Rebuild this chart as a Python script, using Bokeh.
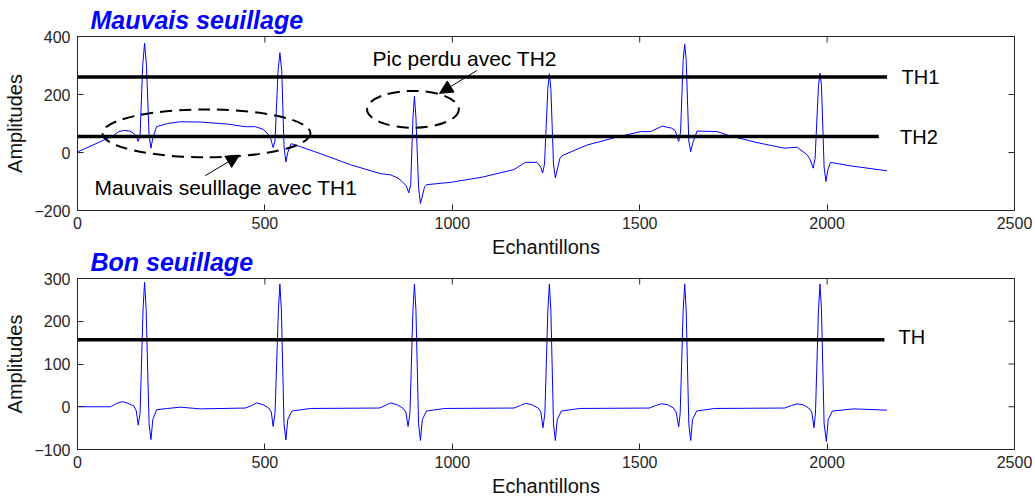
import math
from bokeh.plotting import figure
from bokeh.layouts import column
from bokeh.models import Range1d, FixedTicker, Arrow, NormalHead
from bokeh.embed import file_html
from bokeh.resources import INLINE

# ---------------- data ----------------
# Signal with bad thresholding (baseline wander)
top_x = [0, 40, 96, 110, 123, 140, 150, 157, 162, 167, 174, 179, 184, 191, 196, 201,
         211, 240, 275, 330, 400, 448, 475, 495, 506, 515, 522, 527, 535, 540, 545,
         551, 556, 561, 570, 578, 595, 650, 728, 808, 835, 855, 866, 877, 884, 889,
         895, 899, 903, 910, 915, 920, 926, 931, 995, 1080, 1164, 1195, 1226, 1236,
         1241, 1246, 1255, 1259, 1263, 1270, 1275, 1280, 1287, 1293, 1360, 1430, 1502,
         1529, 1560, 1585, 1595, 1604, 1609, 1616, 1620, 1624, 1631, 1636, 1641, 1653,
         1707, 1742, 1810, 1885, 1920, 1947, 1955, 1963, 1968, 1977, 1981, 1985, 1992,
         1997, 2002, 2009, 2062, 2125, 2160]
top_y = [2, 25, 58, 72, 76, 74, 66, 55, 38, 60, 300, 377, 300, 60, 15, 50,
         89, 100, 106, 105, 98, 89, 89, 80, 67, 50, 17, 40, 280, 344, 280,
         20, -33, 0, 30, 28, 20, -5, -42, -73, -77, -88, -100, -115, -139, -110,
         120, 194, 120, -120, -176, -150, -118, -111, -103, -85, -59, -34, -34, -50,
         -71, -40, 220, 272, 220, -40, -88, -60, -20, -11, 26, 50, 72,
         72, 91, 84, 75, 38, 70, 320, 373, 320, 40, 3, 30, 74,
         72, 57, 35, 15, 18, -8, -25, -54, -20, 230, 274, 230, -50,
         -100, -60, -34, -46, -57, -63]

# Signal with good thresholding
bot_x = [0, 88, 105, 119, 135, 150, 157, 162, 167, 175, 179, 183, 191, 196, 201, 211,
         240, 275, 328, 448, 465, 478, 495, 510, 517, 522, 527, 536, 540, 544, 551, 556,
         561, 572, 622, 805, 822, 835, 852, 868, 876, 882, 887, 895, 899, 903, 910, 915,
         920, 931, 980, 1165, 1182, 1195, 1212, 1229, 1236, 1242, 1247, 1255, 1259, 1263,
         1270, 1275, 1280, 1291, 1340, 1526, 1543, 1558, 1574, 1590, 1597, 1604, 1608,
         1616, 1620, 1624, 1631, 1636, 1641, 1652, 1700, 1887, 1905, 1920, 1935, 1951,
         1959, 1965, 1969, 1977, 1981, 1985, 1992, 1998, 2003, 2014, 2071, 2160]
bot_y = [0, 0, 8, 12, 8, 2, -10, -43, -15, 230, 291, 230, -40, -77, -30, -7,
         -4, -1, -5, -3, 3, 9, 5, -3, -12, -46, -15, 226, 287, 226, -40, -78,
         -30, -10, -4, -3, 3, 9, 5, -3, -12, -46, -15, 226, 287, 226, -40, -79,
         -30, -10, -4, -3, 3, 8, 5, -3, -12, -49, -15, 226, 287, 226,
         -40, -79, -30, -10, -4, -3, 3, 7, 5, -3, -12, -47, -15,
         226, 287, 226, -40, -79, -30, -10, -4, -3, 3, 6.5, 5, -3,
         -12, -49, -15, 226, 287, 226, -40, -81, -30, -10, -5, -8]

th1_value, th2_value, th_value = 260, 55, 157
th1_span = [0, 2160]
th2_span = [0, 2138]
th_span = [0, 2153]

x_ticks = [0, 500, 1000, 1500, 2000, 2500]
top_y_ticks = [-200, 0, 200, 400]
bot_y_ticks = [-100, 0, 100, 200, 300]

titles = ["Mauvais seuillage", "Bon seuillage"]
x_label = "Echantillons"
y_label = "Amplitudes"

FONT = "Liberation Sans"
AX = "#262626"
BLUE = "#0000FF"
X0, X1 = 0, 2500


def make_fig(height, border_top, border_bottom, y_start, y_end, y_ticks, title, **kw):
    p = figure(width=1035, height=height, output_backend="svg", toolbar_location=None,
               x_range=Range1d(X0, X1), y_range=Range1d(y_start, y_end),
               min_border_left=77, min_border_right=21,
               min_border_top=border_top, min_border_bottom=border_bottom, **kw)
    p.grid.visible = False
    p.outline_line_color = AX
    p.outline_line_width = 1
    p.outline_line_alpha = 1
    p.background_fill_color = "white"

    p.title.text = title
    p.title.text_font = FONT
    p.title.text_font_size = "25px"
    p.title.text_font_style = "bold italic"
    p.title.text_color = BLUE
    p.title.align = "left"
    p.title.offset = 13
    p.title.standoff = 5

    for ax, ticks in ((p.xaxis[0], x_ticks), (p.yaxis[0], y_ticks)):
        ax.ticker = FixedTicker(ticks=ticks)
        ax.major_tick_in = 6
        ax.major_tick_out = 0
        ax.minor_tick_line_color = None
        ax.major_tick_line_color = AX
        ax.axis_line_color = AX
        ax.major_label_text_font = FONT
        ax.major_label_text_font_size = "16px"
        ax.major_label_text_color = AX
        ax.axis_label_text_font = FONT
        ax.axis_label_text_font_size = "20px"
        ax.axis_label_text_font_style = "normal"
        ax.axis_label_text_color = "#111111"
    p.xaxis[0].axis_label = x_label
    p.xaxis[0].major_label_standoff = 6
    p.xaxis[0].axis_label_standoff = 4
    p.yaxis[0].axis_label = y_label
    p.yaxis[0].major_label_standoff = 7
    p.yaxis[0].axis_label_standoff = 5

    # mirrored inward ticks on the top and right edges of the box
    p.scatter(x=x_ticks, y=[y_end] * len(x_ticks), marker="dash", size=12,
              angle=math.pi / 2, line_color=AX, line_width=1)
    p.scatter(x=[X1] * len(y_ticks), y=y_ticks, marker="dash", size=12,
              line_color=AX, line_width=1)
    return p


# ---------------- top figure ----------------
p1 = make_fig(262, 36, 52, -200, 400, top_y_ticks, titles[0])
p1.border_fill_color = "white"

p1.line(top_x, top_y, line_color=BLUE, line_width=1)
p1.line(th1_span, [th1_value, th1_value], line_color="black", line_width=3.5)
p1.line(th2_span, [th2_value, th2_value], line_color="black", line_width=3.5)
p1.text(x=[2249, 2245], y=[th1_value, th2_value], text=["TH1", "TH2"],
        text_font={"value": FONT}, text_font_size="20px", text_color="black",
        text_align="center", text_baseline="middle")

p1.ellipse(x=[344, 895], y=[66, 149], width=[555, 245], height=[165, 127],
           fill_color=None, line_color="black", line_width=2, line_dash="12 7")
p1.text(x=[396, 1033], y=[-122, 323],
        text=["Mauvais seulllage avec TH1", "Pic perdu avec TH2"],
        text_font={"value": FONT}, text_font_size="21px", text_color="black",
        text_align="center", text_baseline="middle")
p1.add_layout(Arrow(end=NormalHead(size=13, fill_color="black", line_color="black"),
                    x_start=341, y_start=-80, x_end=432, y_end=-9,
                    line_color="black", line_width=1))
p1.add_layout(Arrow(end=NormalHead(size=13, fill_color="black", line_color="black"),
                    x_start=1066, y_start=283, x_end=966, y_end=204,
                    line_color="black", line_width=1))

# ---------------- bottom figure ----------------
# pulled up slightly so that its title sits beside the upper x-axis label,
# with a transparent border so that label stays visible
p2 = make_fig(256, 28, 40, -100, 300, bot_y_ticks, titles[1], margin=(-19, 0, 0, 0))
p2.border_fill_color = None
p2.line(bot_x, bot_y, line_color=BLUE, line_width=1)
p2.line(th_span, [th_value, th_value], line_color="black", line_width=3.5)
p2.text(x=[2226], y=[th_value + 7], text=["TH"],
        text_font={"value": FONT}, text_font_size="20px", text_color="black",
        text_align="center", text_baseline="middle")

layout = column(p1, p2, spacing=0)
open("out.html", "w").write(file_html(layout, INLINE))
